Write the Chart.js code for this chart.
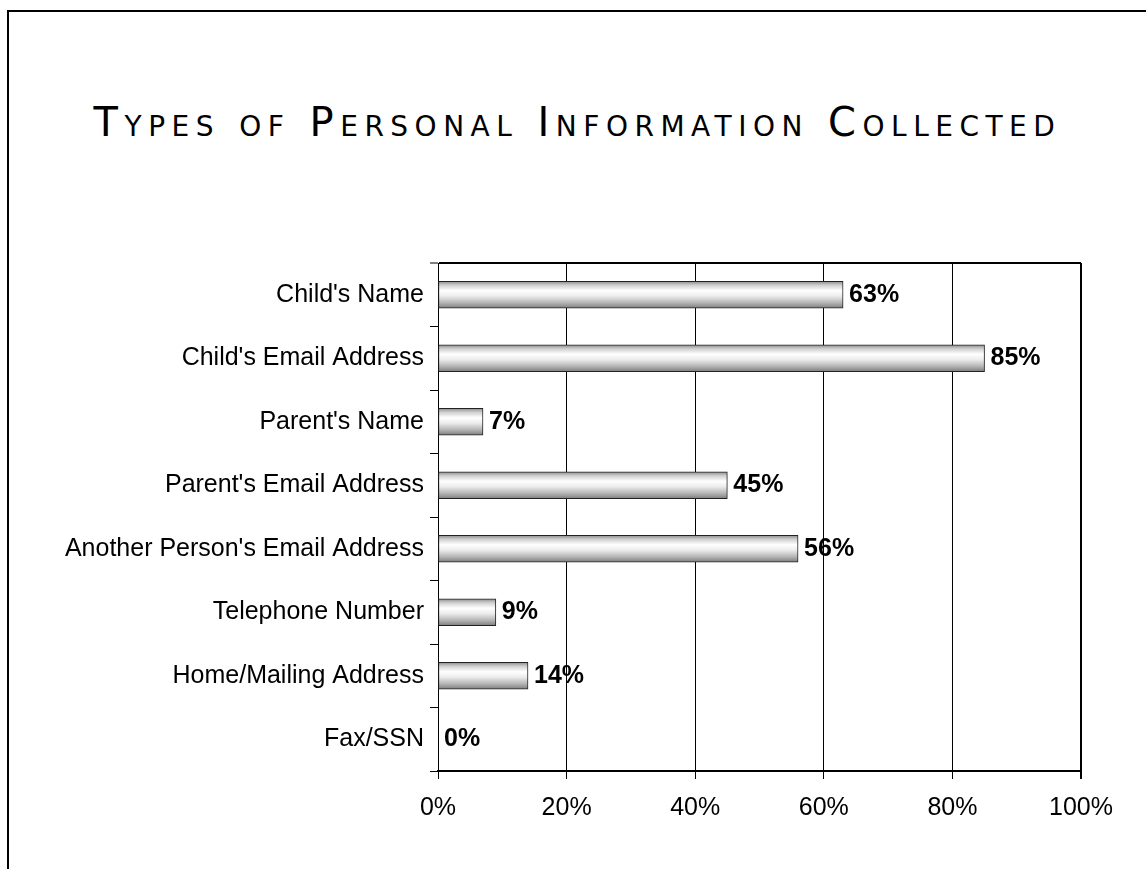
<!DOCTYPE html>
<html lang="en">
<head>
    <meta charset="UTF-8">
    <title>Types of Personal Information Collected</title>
    <style>
        body { margin: 0; background: #fff; }
        .wrap { position: relative; width: 1146px; height: 869px; }
        .frame {
            position: absolute; left: 7px; top: 10px; right: 0; bottom: 0;
            border-top: 2px solid #000; border-left: 2px solid #000;
        }
        h1 {
            position: absolute; left: 0; top: 102px; width: 1146px; margin: 0;
            padding-left: 9px; box-sizing: border-box;
            text-align: center; font: normal 40px/40px "DejaVu Sans", sans-serif;
            font-variant: small-caps; letter-spacing: 6.5px; color: #000;
        }
        canvas { position: absolute; left: 0; top: 0; }
    </style>
</head>
<body>
    <div class="wrap">
        <div class="frame"></div>
        <h1>Types of Personal Information Collected</h1>
        <canvas id="grafica" width="1146" height="869"></canvas>
    </div>

    <script src="https://cdn.jsdelivr.net/npm/chart.js"></script>
    <script>
        const categorias = [
            "Child's Name",
            "Child's Email Address",
            "Parent's Name",
            "Parent's Email Address",
            "Another Person's Email Address",
            "Telephone Number",
            "Home/Mailing Address",
            "Fax/SSN"
        ];
        const valores = [63, 85, 7, 45, 56, 9, 14, 0];
        const etiquetasX = ['0%', '20%', '40%', '60%', '80%', '100%'];

        const fuente = '"Liberation Sans", Arial, sans-serif';

        // degradado vertical de cada barra, calculado con la escala y
        function degradado(c) {
            const chart = c.chart;
            const y = chart.scales.y;
            if (!y || c.dataIndex === undefined) return '#ccc';
            const centro = y.getPixelForTick(c.dataIndex);
            const g = chart.ctx.createLinearGradient(0, centro - 13.5, 0, centro + 13.5);
            g.addColorStop(0, '#8a8a8a');
            g.addColorStop(0.15, '#d0d0d0');
            g.addColorStop(0.35, '#ffffff');
            g.addColorStop(0.55, '#ececec');
            g.addColorStop(0.8, '#b4b4b4');
            g.addColorStop(1, '#7c7c7c');
            return g;
        }

        // etiquetas de valor al final de cada barra
        const etiquetasValor = {
            id: 'etiquetasValor',
            afterDatasetsDraw(chart) {
                const ctx = chart.ctx;
                const meta = chart.getDatasetMeta(0);
                ctx.save();
                ctx.font = 'bold 25px ' + fuente;
                ctx.fillStyle = '#000';
                ctx.textAlign = 'left';
                ctx.textBaseline = 'middle';
                meta.data.forEach((bar, i) => {
                    ctx.fillText(valores[i] + '%', bar.x + 6, bar.y);
                });
                ctx.restore();
            }
        };

        const ctx = document.getElementById('grafica').getContext('2d');
        new Chart(ctx, {
            type: 'bar',
            data: {
                labels: categorias,
                datasets: [{
                    data: valores,
                    backgroundColor: degradado,
                    borderColor: '#222',
                    borderWidth: 1,
                    borderSkipped: false,
                    barThickness: 27
                }]
            },
            options: {
                indexAxis: 'y',
                responsive: false,
                animation: false,
                layout: { padding: { top: 263, right: 65, bottom: 0, left: 0 } },
                plugins: {
                    legend: { display: false },
                    tooltip: { enabled: false }
                },
                scales: {
                    x: {
                        min: 0,
                        max: 100,
                        afterFit: s => { s.height = 98; },
                        ticks: {
                            stepSize: 20,
                            padding: 14,
                            color: '#000',
                            font: { family: fuente, size: 25 },
                            callback: (v, i) => etiquetasX[i]
                        },
                        grid: {
                            color: '#000',
                            lineWidth: c => c.index === 5 ? 2 : 1,
                            tickLength: 8,
                            tickColor: '#000'
                        },
                        border: { color: '#000', width: 2 }
                    },
                    y: {
                        afterFit: s => { s.width = 438; },
                        ticks: {
                            padding: 6,
                            color: '#000',
                            font: { family: fuente, size: 25 }
                        },
                        grid: {
                            offset: true,
                            color: c => c.index === 0 ? '#000' : 'rgba(0,0,0,0)',
                            lineWidth: c => c.index === 0 ? 2 : 1,
                            tickLength: 8,
                            tickColor: '#000',
                            tickWidth: 1
                        },
                        border: { color: '#000', width: 1 }
                    }
                }
            },
            plugins: [etiquetasValor]
        });
    </script>
</body>
</html>
